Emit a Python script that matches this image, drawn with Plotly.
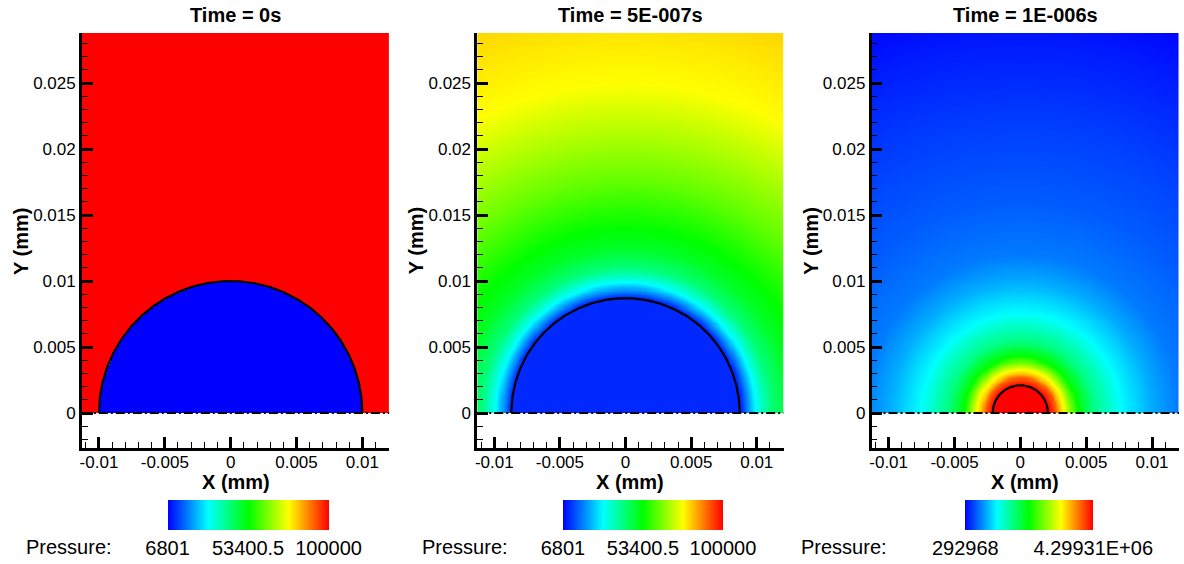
import numpy as np
import plotly.graph_objects as go

# ---------------- data ----------------
titles = ["Time = 0s", "Time = 5E-007s", "Time = 1E-006s"]

# bubble radius (mm) for each snapshot
bubble_radius = [0.0100, 0.0087, 0.0021]

# colour-bar ranges (Pa)
p_min = [6801, 6801, 292968]
p_max = [100000, 100000, 4299310]

# radial pressure profiles (distance from bubble centre in mm -> Pa)
r_profile_0 = [0.0, 0.00999, 0.01001, 0.040]
p_profile_0 = [6801, 6801, 100000, 100000]

r_profile_1 = [0.0, 0.0087, 0.0088, 0.0092, 0.0099, 0.0110, 0.0125, 0.0140,
               0.0177, 0.0210, 0.0250, 0.0310, 0.040]
p_profile_1 = [10500, 10500, 10500, 18000, 30100, 42200, 49700, 53400,
               62700, 69200, 76700, 80400, 82000]

r_profile_2 = [0.0, 0.0021, 0.0023, 0.0027, 0.0030, 0.0033, 0.0038, 0.0043,
               0.0055, 0.0076, 0.0099, 0.0120, 0.0160, 0.0220, 0.0290, 0.0320, 0.040]
p_profile_2 = [4299310, 4299310, 4180000, 3900000, 3500000, 3300000, 2780000, 2300000,
               1780000, 1290000, 974000, 774000, 654000, 533000, 373000, 292968, 292968]

cb_tickvals = [[6801, 53400.5, 100000], [6801, 53400.5, 100000], [292968, 4299310]]
cb_ticktext = [["6801", "53400.5", "100000"], ["6801", "53400.5", "100000"],
               ["292968", "4.29931E+06"]]

x_tickvals = [-0.01, -0.005, 0, 0.005, 0.01]
x_ticktext = ["-0.01", "-0.005", "0", "0.005", "0.01"]
y_tickvals = [0, 0.005, 0.01, 0.015, 0.02, 0.025]
y_ticktext = ["0", "0.005", "0.01", "0.015", "0.02", "0.025"]

profiles = [(r_profile_0, p_profile_0), (r_profile_1, p_profile_1), (r_profile_2, p_profile_2)]

# ---------------- layout geometry ----------------
W, H = 1184, 564
x_range = [-0.0113, 0.01205]
y_range = [-0.00265, 0.02879]
x_dom_px = [(80, 388), (476, 783), (871, 1179)]
y_dom_px = (33, 448)
cb_px = [(166, 327), (562, 722), (965, 1093)]
press_label_x = [67, 464, 843]
ylabel_x = [19, 415, 810]

FONT = "Liberation Sans, Arial, sans-serif"
colorscale = [[0.0, "rgb(0,0,255)"], [0.25, "rgb(0,255,255)"], [0.5, "rgb(0,255,0)"],
              [0.75, "rgb(255,255,0)"], [1.0, "rgb(255,0,0)"]]

gx = np.linspace(-0.0114, 0.0121, 300)
gy = np.linspace(0.00005, 0.02885, 360)
GX, GY = np.meshgrid(gx, gy)
GR = np.sqrt(GX ** 2 + GY ** 2)

fig = go.Figure()
annotations = []
minor_x = [round(v, 4) for v in np.arange(-0.011, 0.0121, 0.001)]
minor_y = [round(v, 4) for v in np.arange(-0.002, 0.0289, 0.001)]

for i in range(3):
    xa = "x" if i == 0 else f"x{i+1}"
    ya = "y" if i == 0 else f"y{i+1}"
    rp, pp = profiles[i]
    Z = np.round(np.interp(GR, rp, pp)).astype(int)
    c0, c1 = cb_px[i]
    fig.add_trace(go.Heatmap(
        x=gx, y=gy, z=Z, xaxis=xa, yaxis=ya, zsmooth="best",
        colorscale=colorscale, zmin=p_min[i], zmax=p_max[i],
        colorbar=dict(orientation="h", x=(c0 + c1) / 2 / W, xanchor="center",
                      y=1 - 500 / H, yanchor="top", lenmode="pixels", len=c1 - c0,
                      thickness=30, xpad=0, ypad=0, outlinewidth=0,
                      tickvals=cb_tickvals[i], ticktext=cb_ticktext[i], ticks="",
                      tickfont=dict(family=FONT, size=20, color="black")),
        hoverinfo="skip"))
    # bubble interface
    th = np.linspace(0, np.pi, 300)
    R = bubble_radius[i]
    fig.add_trace(go.Scatter(x=R * np.cos(th), y=R * np.sin(th), xaxis=xa, yaxis=ya,
                             mode="lines", line=dict(color="black", width=2.2),
                             showlegend=False, hoverinfo="skip"))
    # symmetry axis
    fig.add_trace(go.Scatter(x=x_range, y=[0, 0], xaxis=xa, yaxis=ya, mode="lines",
                             line=dict(color="black", width=2.2, dash="9px,3px,2px,3px"),
                             showlegend=False, hoverinfo="skip"))
    d0, d1 = x_dom_px[i]
    axis_common = dict(showline=True, linecolor="black", linewidth=2.5, ticks="inside",
                       ticklen=11, tickwidth=2.5, tickcolor="black", showgrid=False,
                       zeroline=False, tickfont=dict(family=FONT, size=17, color="black"))
    fig.layout[("xaxis" if i == 0 else f"xaxis{i+1}")] = dict(
        domain=[d0 / W, d1 / W], range=x_range, anchor=ya, ticklabelstandoff=-3,
        tickmode="array", tickvals=x_tickvals, ticktext=x_ticktext,
        minor=dict(tickmode="array", tickvals=minor_x, ticks="inside", ticklen=6,
                   tickwidth=1, tickcolor="black"),
        **axis_common)
    fig.layout[("yaxis" if i == 0 else f"yaxis{i+1}")] = dict(
        domain=[1 - y_dom_px[1] / H, 1 - y_dom_px[0] / H], range=y_range, anchor=xa,
        tickmode="array", tickvals=y_tickvals, ticktext=y_ticktext,
        minor=dict(tickmode="array", tickvals=minor_y, ticks="inside", ticklen=6,
                   tickwidth=1, tickcolor="black"),
        **axis_common)
    cx = (d0 + d1) / 2 / W
    annotations.append(dict(text="<b>" + titles[i] + "</b>", x=cx, y=1 - 15 / H,
                            xref="paper", yref="paper", showarrow=False,
                            font=dict(family=FONT, size=20, color="black"),
                            xanchor="center", yanchor="middle"))
    annotations.append(dict(text="<b>X (mm)</b>", x=cx, y=1 - 482 / H,
                            xref="paper", yref="paper", showarrow=False,
                            font=dict(family=FONT, size=20, color="black"),
                            xanchor="center", yanchor="middle"))
    annotations.append(dict(text="<b>Y (mm)</b>", x=ylabel_x[i] / W, y=1 - 241 / H,
                            xref="paper", yref="paper", showarrow=False, textangle=-90,
                            font=dict(family=FONT, size=20, color="black"),
                            xanchor="center", yanchor="middle"))
    annotations.append(dict(text="Pressure:", x=press_label_x[i] / W, y=1 - 547 / H,
                            xref="paper", yref="paper", showarrow=False,
                            font=dict(family=FONT, size=20, color="black"),
                            xanchor="center", yanchor="middle"))

fig.update_layout(width=W, height=H, margin=dict(l=0, r=0, t=0, b=0),
                  paper_bgcolor="white", plot_bgcolor="white", showlegend=False,
                  annotations=annotations, font=dict(family=FONT, color="black"))
fig.write_html("out.html")
